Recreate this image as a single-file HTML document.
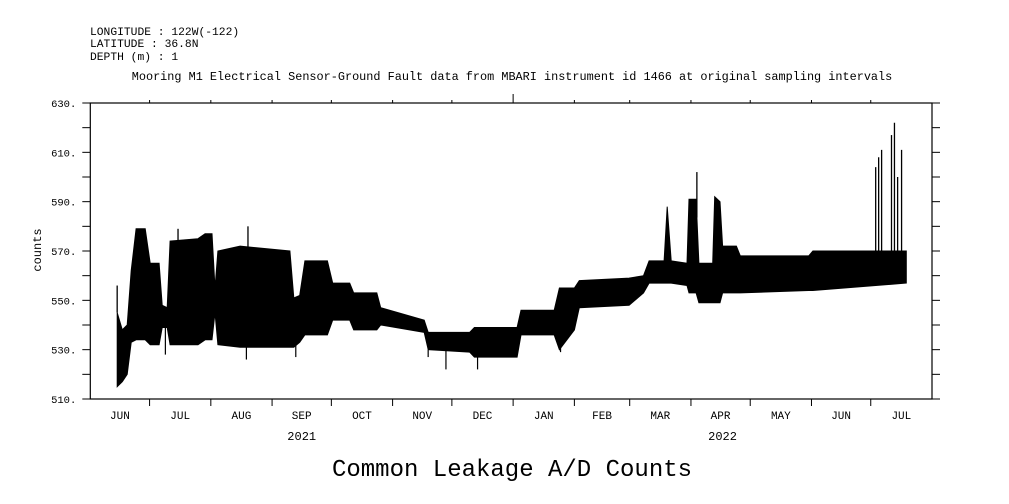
<!DOCTYPE html>
<html><head><meta charset="utf-8"><style>
body{margin:0;background:#fff;}
svg{display:block;font-family:"Liberation Mono",monospace;}
</style></head><body>
<svg id="chart" width="1009" height="504" viewBox="0 0 1009 504">
<g font-size="11.3" fill="#000">
<text x="90" y="35">LONGITUDE : 122W(-122)</text>
<text x="90" y="47">LATITUDE : 36.8N</text>
<text x="90" y="60">DEPTH (m) : 1</text>
</g>
<text x="512" y="80" font-size="11.85" text-anchor="middle">Mooring M1 Electrical Sensor-Ground Fault data from MBARI instrument id 1466 at original sampling intervals</text>
<text x="512" y="476" font-size="24" text-anchor="middle">Common Leakage A/D Counts</text>
<text transform="translate(41,250) rotate(-90)" font-size="12" text-anchor="middle">counts</text>
<g id="plot"></g>
</svg>
<script>
const days = [13.6,16.2,18.7,20.7,23.2,27.8,30.3,34.8,36.4,38.9,40.4,54.5,58.1,61.6,63.1,64.6,75.8,101,103,106,108.6,120,122.7,131.3,133.3,145,147,169,171,192,194.4,216,218,234.8,237.4,245,247.5,272.7,280,282.8,290.4,292,294,302,303,306.6,308,315,316,318.7,320,327,329,363.6,365.7,413];
const lows = [515,517,520,533,534,534,532,532,539,539,532,532,534,534,545,532,531,531,531,533,536,536,542,542,538,538,540,537,530,529,527,527,536,536,530,538,547,548,553,557,557,557,557,556,553,553,549,549,549,549,553,553,553,554,554,557];
const highs = [545,538,540,562,579,579,565,565,548,547,574,575,577,577,555,570,572,570,551,552,566,566,557,557,553,553,547,542,537,537,539,539,546,546,555,555,558,559,560,566,566,588,566,565,591,591,565,565,592,590,572,572,568,568,570,570];
const spikeDays = [13.6,44.4,79.8,307,397.5,399,400.5,405.5,407,408.6,410.6];
const spikeVals = [556,579,580,602,604,608,611,617,622,600,611];
const dipDays = [38,79,104,171,180,196,238];
const dipVals = [528,526,527,527,522,522,529];
const yTicks = [510,530,550,570,590,610,630];
const months = ["JUN","JUL","AUG","SEP","OCT","NOV","DEC","JAN","FEB","MAR","APR","MAY","JUN","JUL"];
const monthStarts = [0,30,61,92,122,153,183,214,245,273,304,334,365,395,426];
const years = ["2021","2022"];
const yearDays = [107,320];

const X0=90.3, X1=932, Y0=399, Y1=103, D0=0, D1=426, V0=510, V1=630;
const xs = d => X0 + (d-D0)/(D1-D0)*(X1-X0);
const ys = v => Y0 - (v-V0)/(V1-V0)*(Y0-Y1);
const NS="http://www.w3.org/2000/svg";
const plot=document.getElementById('plot');
function mk(tag,attrs){const e=document.createElementNS(NS,tag);for(const k in attrs)e.setAttribute(k,attrs[k]);plot.appendChild(e);return e;}

let pts=[];
for(let i=0;i<days.length;i++)pts.push(xs(days[i]).toFixed(1)+','+ys(highs[i]).toFixed(1));
for(let i=days.length-1;i>=0;i--)pts.push(xs(days[i]).toFixed(1)+','+ys(lows[i]).toFixed(1));
const env=mk('polygon',{points:pts.join(' '),fill:'#000',stroke:'#000','stroke-width':1});


function baseAt(d,arr){for(let i=0;i<days.length-1;i++){if(d>=days[i]&&d<=days[i+1]){const t=(d-days[i])/(days[i+1]-days[i]);return arr[i]+t*(arr[i+1]-arr[i]);}}return arr[arr.length-1];}
for(let i=0;i<spikeDays.length;i++){
 const l=mk('line',{x1:xs(spikeDays[i]),x2:xs(spikeDays[i]),y1:ys(spikeVals[i]),y2:ys(baseAt(spikeDays[i],highs)),stroke:'#000','stroke-width':1.3});
 
 
}
for(let i=0;i<dipDays.length;i++){
 const l=mk('line',{x1:xs(dipDays[i]),x2:xs(dipDays[i]),y1:ys(dipVals[i]),y2:ys(baseAt(dipDays[i],lows)),stroke:'#000','stroke-width':1.2});
 
 
}
const fr=mk('rect',{x:X0,y:Y1,width:X1-X0,height:Y0-Y1,fill:'none',stroke:'#000','stroke-width':1.2});


for(let v=V0;v<=V1;v+=10){
 const y=ys(v);
 const a=mk('line',{x1:X0-8,x2:X0,y1:y,y2:y,stroke:'#000','stroke-width':1});
 
 
 const b=mk('line',{x1:X1,x2:X1+8,y1:y,y2:y,stroke:'#000','stroke-width':1});
 
 
}
yTicks.forEach(v=>{
 const t=mk('text',{x:X0-14,y:ys(v)+4,'font-size':10.5,'text-anchor':'end'});
 t.textContent=v+'.';
 
 
});
monthStarts.forEach((d,i)=>{
 if(i===0||i===monthStarts.length-1)return;
 const x=xs(d);
 const a=mk('line',{x1:x,x2:x,y1:Y0,y2:Y0+7,stroke:'#000','stroke-width':1});
 
 
 const b=mk('line',{x1:x,x2:x,y1:Y1,y2:Y1-(d===214?9:3),stroke:'#000','stroke-width':1});
 
 
});
months.forEach((m,i)=>{
 const t=mk('text',{x:xs((monthStarts[i]+monthStarts[i+1])/2),y:419,'font-size':11,'text-anchor':'middle'});
 t.textContent=m;
 
 
});
years.forEach((yv,i)=>{
 const t=mk('text',{x:xs(yearDays[i]),y:440,'font-size':12,'text-anchor':'middle'});
 t.textContent=yv;
 
 
});
</script>
</body></html>
